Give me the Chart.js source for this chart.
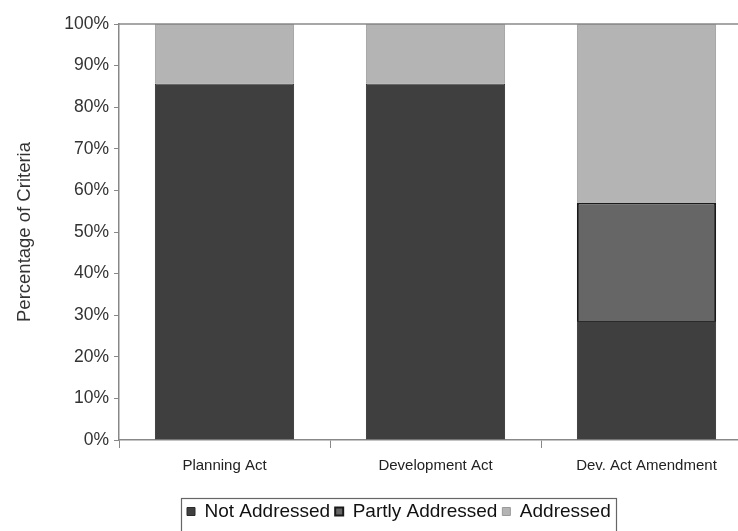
<!DOCTYPE html>
<html>
<head>
<meta charset="utf-8">
<script src="https://cdn.jsdelivr.net/npm/chart.js@4"></script>
<style>
  html, body { margin: 0; padding: 0; background: #fff; overflow: hidden; }
  #wrap { width: 760px; height: 531px; }
</style>
</head>
<body>
<div id="wrap"><canvas id="criteriaChart" width="760" height="531"></canvas></div>
<script>
const categories = ['Planning Act', 'Development Act', 'Dev. Act Amendment'];
const notAddressed = [85.7, 85.7, 28.6];
const partlyAddressed = [0, 0, 28.5];
const addressed = [14.3, 14.3, 42.9];
const yTicks = [0, 10, 20, 30, 40, 50, 60, 70, 80, 90, 100];

// top border of the plot area, legend moved to its spot + frame around it
const framePlugin = {
  id: 'frame',
  afterLayout(chart) {
    if (chart.legend) {
      chart.legend.left = 182;
      chart.legend.top = 497;
    }
  },
  afterDraw(chart) {
    const { ctx, chartArea } = chart;
    ctx.save();
    ctx.strokeStyle = '#8a8a8a';
    ctx.lineWidth = 1.5;
    ctx.beginPath();
    ctx.moveTo(chartArea.left, chartArea.top);
    ctx.lineTo(chartArea.right, chartArea.top);
    ctx.stroke();
    ctx.strokeStyle = '#666';
    ctx.lineWidth = 1.2;
    ctx.strokeRect(181.5, 498.5, 435, 50);
    ctx.restore();
  }
};

const ctx = document.getElementById('criteriaChart').getContext('2d');
new Chart(ctx, {
  type: 'bar',
  data: {
    labels: categories,
    datasets: [
      {
        label: 'Not Addressed',
        data: notAddressed,
        backgroundColor: '#3f3f3f',
        borderColor: '#2a2a2a',
        borderWidth: 1,
      },
      {
        label: 'Partly Addressed',
        data: partlyAddressed,
        backgroundColor: '#666666',
        borderColor: '#1a1a1a',
        borderWidth: 2,
      },
      {
        label: 'Addressed',
        data: addressed,
        backgroundColor: '#b4b4b4',
        borderColor: '#9a9a9a',
        borderWidth: 1,
      },
    ],
  },
  options: {
    responsive: false,
    animation: false,
    layout: { padding: { top: 24, right: 8, left: 0, bottom: 0 } },
    datasets: { bar: { categoryPercentage: 1, barPercentage: 0.66 } },
    plugins: {
      tooltip: { enabled: false },
      legend: {
        position: 'bottom',
        align: 'start',
        labels: {
          color: '#111',
          font: { family: 'Liberation Sans, Arial, sans-serif', size: 19 },
          boxWidth: 8,
          boxHeight: 8,
          padding: 5,
        },
        onClick: null,
      },
    },
    scales: {
      x: {
        stacked: true,
        offset: true,
        afterFit(scale) { scale.height = 57; },
        border: { color: '#888', width: 1.5 },
        grid: { offset: true, drawOnChartArea: false, tickLength: 8, color: '#888' },
        ticks: {
          color: '#222',
          padding: 9,
          maxRotation: 0,
          font: { family: 'Liberation Sans, Arial, sans-serif', size: 15 },
        },
      },
      y: {
        stacked: true,
        min: 0,
        max: 100,
        afterFit(scale) { scale.width = 119; },
        afterBuildTicks(scale) { scale.ticks = yTicks.map(v => ({ value: v })); },
        border: { color: '#888', width: 1.5 },
        grid: { drawOnChartArea: false, tickLength: 5, color: '#888' },
        ticks: {
          color: '#333',
          padding: 5,
          callback: v => v + '%',
          font: { family: 'Liberation Sans, Arial, sans-serif', size: 17.5 },
        },
        title: {
          display: true,
          text: 'Percentage of Criteria',
          color: '#333',
          padding: { top: 14, bottom: 0 },
          font: { family: 'Liberation Sans, Arial, sans-serif', size: 18.5 },
        },
      },
    },
  },
  plugins: [framePlugin],
});
</script>
</body>
</html>
